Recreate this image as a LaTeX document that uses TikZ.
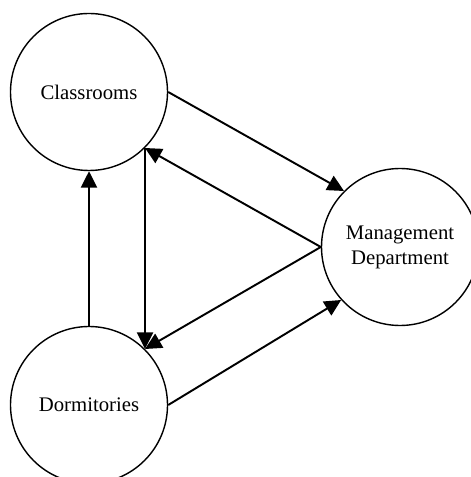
\documentclass[tikz,border=0pt]{standalone}
\usepackage{fontspec}
\setmainfont{Liberation Serif}
\usetikzlibrary{arrows.meta}

\begin{document}
\begin{tikzpicture}[every node/.style={font=\fontsize{11.8}{14.2}\selectfont},
  >={Triangle[length=3.3mm,width=3.2mm]},
  place/.style={draw, circle, line width=0.8pt, minimum size=3.14cm, inner sep=0pt, align=center},
  flow/.style={->, line width=1.1pt}]
\useasboundingbox (0,0) rectangle (9.4,-9.54);
\node[place] (c) at (1.78,-1.84) {Classrooms};
\node[place] (d) at (1.78,-8.1) {Dormitories};
\node[place] (m) at (8.0,-4.94) {Management\\Department};
\draw[flow] (c.0) -- (m.135);
\draw[flow] (m.180) -- (c.-45);
\draw[flow] (c.-45) -- (d.45);
\draw[flow] (d.90) -- (c.-90);
\draw[flow] (m.180) -- (d.45);
\draw[flow] (d.0) -- (m.-138);
\end{tikzpicture}
\end{document}
